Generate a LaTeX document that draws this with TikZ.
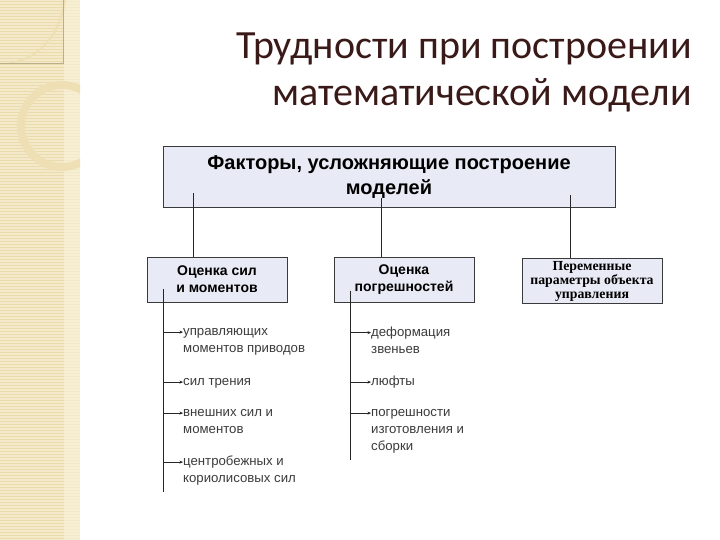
\documentclass[tikz,border=0pt]{standalone}
\usepackage{fontspec}
\setmainfont{Liberation Sans}
\newfontfamily\titlefont{Carlito}
\newfontfamily\serifbold{Liberation Serif}
\usetikzlibrary{arrows.meta}
\definecolor{boxfill}{HTML}{E8EAF5}
\definecolor{boxline}{HTML}{3A3A3A}
\definecolor{titlecol}{HTML}{3A1A18}
\definecolor{stripbg}{HTML}{F4E9C8}
\definecolor{stripln}{HTML}{E9DBAE}
\definecolor{striplt}{HTML}{FAF3DC}
\definecolor{ringcol}{HTML}{EEDFB4}
\definecolor{itemcol}{HTML}{3C3C3C}
\tikzset{
  title/.style={font=\titlefont\fontsize{40}{47}\selectfont, text=titlecol, inner sep=0pt},
  topbox/.style={draw=boxline, line width=1pt, fill=boxfill, align=center,
    font=\fontsize{20}{25}\selectfont\bfseries, minimum width=452pt, minimum height=61pt, inner sep=0pt},
  subbox/.style={draw=boxline, line width=1pt, fill=boxfill, align=center,
    font=\fontsize{14}{17}\selectfont\bfseries, minimum width=140pt, minimum height=45pt, inner sep=0pt},
  conn/.style={draw=black!85, line width=0.8pt},
  arr/.style={draw=black!85, line width=0.8pt, -{Stealth[length=3.5pt,width=3pt]}},
  item/.style={anchor=north west, align=left, inner sep=0pt, text=itemcol,
    font=\fontsize{13.2}{17}\selectfont}
}
\begin{document}
\begin{tikzpicture}[x=1pt,y=-1pt]
\useasboundingbox (0,0) rectangle (720,540);
\fill[white] (0,0) rectangle (720,540);
% decorative strip
\fill[stripbg] (0,0) rectangle (80,540);
\foreach \yy in {1,4,...,540} \draw[stripln, line width=0.7pt] (0,\yy) -- (80,\yy);
\fill[striplt, opacity=0.6] (64,0) rectangle (80,540);
\begin{scope}
  \clip (0,0) rectangle (80,540);
  \draw[ringcol, line width=8pt] (62,126) circle[radius=41pt];
  \draw[ringcol, line width=2pt] (65,0) .. controls (60,35) and (40,58) .. (10,63);
  \draw[stripln!80!black, line width=0.5pt] (0,63) -- (63,63) -- (63,0);
\end{scope}
% title
\node[title, anchor=base east] (t1) at (692,59) {Трудности при построении};
\node[title, anchor=base east] (t2) at (692,106) {математической модели};
% boxes
\node[topbox] (top) at (389,177.5) {Факторы, усложняющие построение\\моделей};
\node[subbox] (b1) at (217,279.5) {Оценка сил\\и моментов};
\node[subbox] (b2) at (404,279.5) {Оценка\\погрешностей};
\node[subbox, font=\serifbold\fontsize{13.8}{14}\selectfont\bfseries] (b3) at (592,281)
  {Переменные\\параметры объекта\\управления};
% connectors from top box
\coordinate (c1) at ([xshift=-24pt]b1.north);
\coordinate (c2) at ([xshift=-23pt]b2.north);
\coordinate (c3) at ([xshift=-22pt]b3.north);
\draw[conn] (c1) -- ([yshift=15pt]c1 |- top.south);
\draw[conn] (c2) -- ([yshift=10pt]c2 |- top.south);
\draw[conn] (c3) -- ([yshift=13pt]c3 |- top.south);
% left spine
\coordinate (s1t) at ([xshift=-54pt,yshift=14pt]b1.south);
\coordinate (s1b) at (163,492);
\draw[conn] (s1t) -- (s1b);
\node[item] (i1) at (183,323.5) {\strut управляющих\\моментов приводов};
\node[item] (i2) at (183,373.5) {\strut сил трения};
\node[item] (i3) at (183,404.5) {\strut внешних сил и\\моментов};
\node[item] (i4) at (183,453.5) {\strut центробежных и\\кориолисовых сил};
\foreach \n in {i1,i2,i3,i4}{
  \coordinate (\n-a) at ([yshift=-8.6pt]\n.north west);
  \draw[arr] (s1t |- \n-a) -- (\n-a);
}
% middle spine
\coordinate (s2t) at ([xshift=-54pt,yshift=12pt]b2.south);
\coordinate (s2b) at (350,460);
\draw[conn] (s2t) -- (s2b);
\node[item] (j1) at (371,324) {\strut деформация\\звеньев};
\node[item] (j2) at (371,373.5) {\strut люфты};
\node[item] (j3) at (371,404.5) {\strut погрешности\\изготовления и\\сборки};
\foreach \n in {j1,j2,j3}{
  \coordinate (\n-a) at ([yshift=-8.6pt]\n.north west);
  \draw[arr] (s2t |- \n-a) -- (\n-a);
}
\end{tikzpicture}
\end{document}
